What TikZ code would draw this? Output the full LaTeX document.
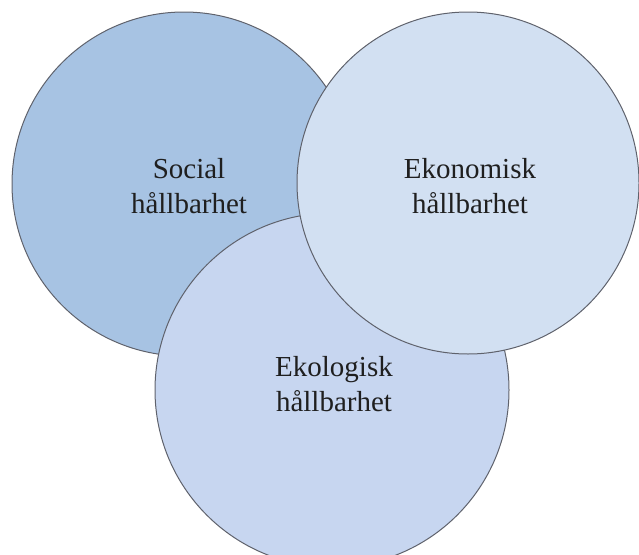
\documentclass[tikz,border=0pt]{standalone}
\usepackage{fontspec}
\setmainfont{Liberation Serif}
\definecolor{socialblue}{RGB}{167,195,227}
\definecolor{ekonomiblue}{RGB}{210,224,242}
\definecolor{ekologiblue}{RGB}{199,214,240}
\definecolor{rim}{RGB}{95,98,108}
\tikzset{
  ring/.style={circle, draw=rim, line width=1pt, inner sep=0pt},
  ringtext/.style={align=center, font=\fontsize{29}{35}\selectfont, text=black!88}
}
\begin{document}
\begin{tikzpicture}[x=1pt, y=-1pt]
	\useasboundingbox (0,0) rectangle (639,554);
	% the three circles, back to front
	\node[ring, fill=socialblue, minimum size=344pt] (social) at (184,184) {};
	\node[ring, fill=ekologiblue, minimum size=354pt] (ekologi) at (332,390) {};
	\node[ring, fill=ekonomiblue, minimum size=342pt] (ekonomi) at (468,183) {};
	% texts
	\node[ringtext] (socialtext) at (189,186) {Social\\hållbarhet};
	\node[ringtext] (ekonomitext) at (470,186) {Ekonomisk\\hållbarhet};
	\node[ringtext] (ekologitext) at (334,384) {Ekologisk\\hållbarhet};
\end{tikzpicture}
\end{document}
